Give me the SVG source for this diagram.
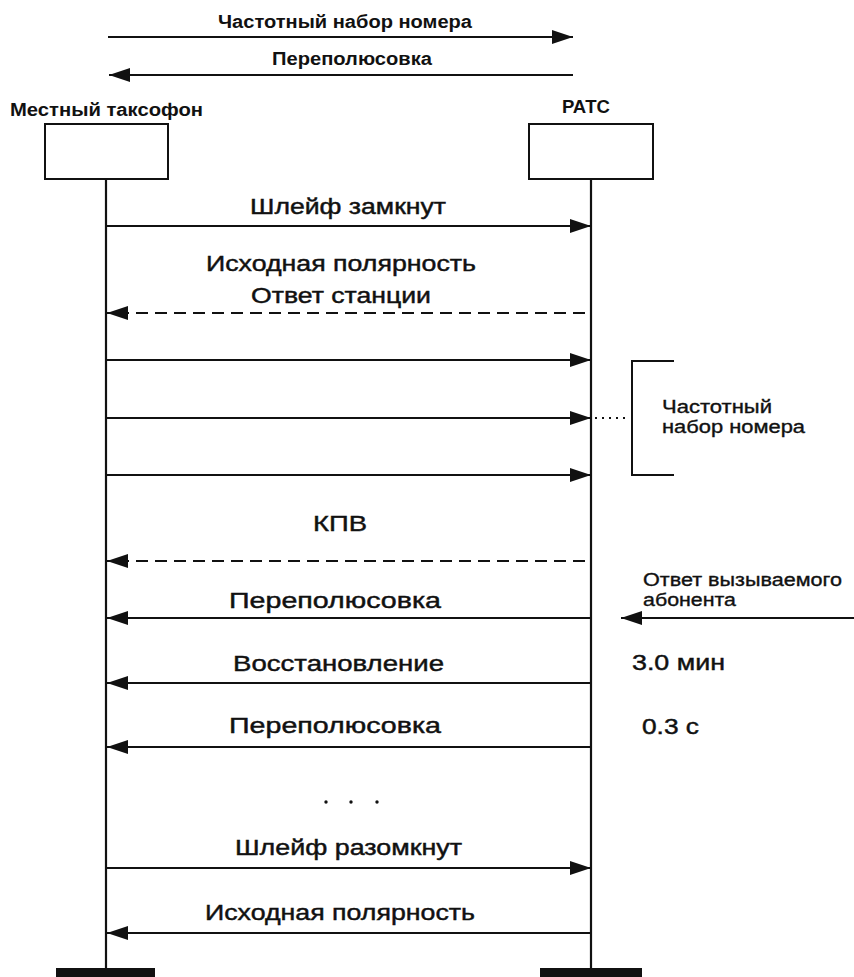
<svg xmlns="http://www.w3.org/2000/svg" width="854" height="977" viewBox="0 0 854 977">
  <defs>
    <marker id="head" markerUnits="userSpaceOnUse" markerWidth="22" markerHeight="15" refX="21" refY="7.5" orient="auto">
      <path d="M0,0.5 L21,7.5 L0,14.5 z" fill="#111"/>
    </marker>
    <style>
      text { font-family: "Liberation Sans", Arial, sans-serif; fill: #111; }
      .hdr { font-size: 18px; font-weight: bold; }
      .lbl { font-size: 22.5px; stroke: #111; stroke-width: 0.45; }
      .side { font-size: 17.5px; stroke: #111; stroke-width: 0.35; }
      .box { fill: #fff; stroke: #111; stroke-width: 2; }
      .life { stroke: #111; stroke-width: 2.2; fill: none; }
      .base { fill: #111; }
      .msg { stroke: #111; stroke-width: 2; fill: none; marker-end: url(#head); }
      .dash { stroke-dasharray: 12 7; }
      .plain { stroke: #111; stroke-width: 2; fill: none; }
      .dots { stroke: #111; stroke-width: 2; stroke-dasharray: 2 5; fill: none; }
    </style>
  </defs>

  <rect width="854" height="977" fill="#fff"/>

  <!-- legend: direction of the two signal types -->
  <g id="legend">
    <text class="hdr" x="218" y="28" textLength="254" lengthAdjust="spacingAndGlyphs">Частотный набор номера</text>
    <line class="msg" x1="108" y1="37" x2="573" y2="37"/>
    <text class="hdr" x="272" y="65" textLength="160" lengthAdjust="spacingAndGlyphs">Переполюсовка</text>
    <line class="msg" x1="573" y1="75" x2="109" y2="75"/>
  </g>

  <!-- payphone -->
  <g id="node-payphone">
    <text class="hdr" x="10" y="116" textLength="193" lengthAdjust="spacingAndGlyphs">Местный таксофон</text>
    <rect class="box" x="45" y="124" width="123" height="55"/>
    <line class="life" x1="106" y1="179" x2="106" y2="968"/>
    <rect class="base" x="56" y="968" width="99" height="9"/>
  </g>

  <!-- exchange -->
  <g id="node-ratc">
    <text class="hdr" x="562" y="113" textLength="48" lengthAdjust="spacingAndGlyphs">РАТС</text>
    <rect class="box" x="529" y="124" width="124" height="55"/>
    <line class="life" x1="591" y1="179" x2="591" y2="968"/>
    <rect class="base" x="540" y="968" width="102" height="9"/>
  </g>

  <!-- messages between payphone and exchange -->
  <g id="connectors">
    <line class="msg" x1="106" y1="226" x2="591" y2="226"/>
    <line class="msg dash" x1="585" y1="313" x2="107" y2="313"/>
    <line class="msg" x1="106" y1="360" x2="591" y2="360"/>
    <line class="msg" x1="106" y1="418" x2="591" y2="418"/>
    <line class="msg" x1="106" y1="475" x2="591" y2="475"/>
    <line class="msg dash" x1="585" y1="561" x2="107" y2="561"/>
    <line class="msg" x1="591" y1="618" x2="107" y2="618"/>
    <line class="msg" x1="854" y1="618" x2="621" y2="618"/>
    <line class="msg" x1="591" y1="683" x2="107" y2="683"/>
    <line class="msg" x1="591" y1="747" x2="107" y2="747"/>
    <line class="msg" x1="106" y1="868" x2="591" y2="868"/>
    <line class="msg" x1="591" y1="933" x2="107" y2="933"/>
    <!-- bracket grouping the dialling pulses -->
    <path class="plain" d="M674,361 H632 V475 H674"/>
    <line class="dots" x1="595" y1="418" x2="630" y2="418"/>
  </g>

  <!-- message labels -->
  <g id="labels">
    <text class="lbl" x="250" y="214" textLength="196" lengthAdjust="spacingAndGlyphs">Шлейф замкнут</text>
    <text class="lbl" x="206" y="271" textLength="270" lengthAdjust="spacingAndGlyphs">Исходная полярность</text>
    <text class="lbl" x="251" y="303" textLength="180" lengthAdjust="spacingAndGlyphs">Ответ станции</text>
    <text class="side" x="662" y="413" textLength="110" lengthAdjust="spacingAndGlyphs">Частотный</text>
    <text class="side" x="662" y="433" textLength="143" lengthAdjust="spacingAndGlyphs">набор номера</text>
    <text class="lbl" x="313" y="531" textLength="54" lengthAdjust="spacingAndGlyphs">КПВ</text>
    <text class="side" x="643" y="586" textLength="199" lengthAdjust="spacingAndGlyphs">Ответ вызываемого</text>
    <text class="side" x="643" y="606" textLength="93" lengthAdjust="spacingAndGlyphs">абонента</text>
    <text class="lbl" x="229" y="608" textLength="212" lengthAdjust="spacingAndGlyphs">Переполюсовка</text>
    <text class="lbl" x="233" y="671" textLength="211" lengthAdjust="spacingAndGlyphs">Восстановление</text>
    <text class="lbl" x="632" y="670" textLength="93" lengthAdjust="spacingAndGlyphs">3.0 мин</text>
    <text class="lbl" x="229" y="733" textLength="212" lengthAdjust="spacingAndGlyphs">Переполюсовка</text>
    <text class="lbl" x="642" y="734" textLength="57" lengthAdjust="spacingAndGlyphs">0.3 с</text>
    <circle class="base" cx="326" cy="802" r="1.7"/>
    <circle class="base" cx="351" cy="802" r="1.7"/>
    <circle class="base" cx="377" cy="802" r="1.7"/>
    <text class="lbl" x="235" y="855" textLength="227" lengthAdjust="spacingAndGlyphs">Шлейф разомкнут</text>
    <text class="lbl" x="205" y="920" textLength="270" lengthAdjust="spacingAndGlyphs">Исходная полярность</text>
  </g>
</svg>
